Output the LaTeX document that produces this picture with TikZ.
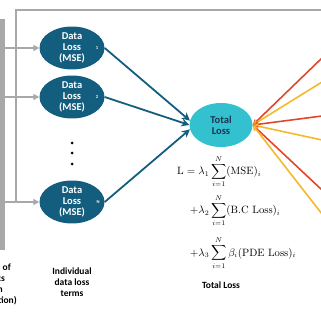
\documentclass[tikz,border=0pt]{standalone}
\usepackage{amsmath,amssymb}
\usepackage{fontspec}
\newfontfamily\calib{Carlito}
\usetikzlibrary{positioning, arrows.meta, shapes.geometric, calc}
\definecolor{deepteal}{HTML}{135E7F}
\definecolor{cyanloss}{HTML}{33C1CF}
\definecolor{navytxt}{HTML}{1B3350}
\definecolor{barGray}{HTML}{A8A8A8}
\definecolor{redline}{HTML}{E0482C}
\definecolor{yellowline}{HTML}{F4B92A}

\begin{document}
\begin{tikzpicture}[x=1pt, y=-1pt,
    every node/.style={font=\calib\bfseries\fontsize{9.5}{11}\selectfont},
    dataloss/.style={ellipse, fill=deepteal, text=white, align=center,
                     minimum width=65pt, minimum height=35pt, inner sep=0pt,
                     font=\calib\bfseries\fontsize{10.5}{11}\selectfont},
    totalloss/.style={ellipse, fill=cyanloss, text=navytxt, align=center,
                      minimum width=63pt, minimum height=44pt, inner sep=0pt,
                      font=\calib\bfseries\fontsize{10.5}{11}\selectfont},
    idx/.style={text=white, inner sep=0pt, font=\calib\bfseries\fontsize{4.5}{5}\selectfont},
    frame/.style={draw=barGray, line width=1.8pt},
    feed/.style={frame, -{Triangle[length=6pt, width=6pt]}},
    toTotal/.style={draw=deepteal, line width=1.8pt, -{Stealth[length=8pt, width=8pt]}},
    warm/.style={line width=1.6pt, -{Stealth[length=6pt, width=6pt]}},
    caption/.style={align=center, inner sep=0pt},
    eqn/.style={inner sep=0pt, font=\normalfont\fontsize{10.6}{12}\selectfont},
]
\useasboundingbox (0,0) rectangle (320,320);

% --- Grey input bar (cut at the left border) ------------------------
\node[fill=barGray, minimum width=25pt, minimum height=231pt, inner sep=0pt]
    (bar) at (-7.5,134.5) {};
\foreach \txt/\xx/\yy [count=\k] in {of/11/270, cs/5/281, n/3/292, tion)/17/303}
    \node[anchor=base east, inner sep=0pt] (cut\k) at (\xx,\yy) {\txt};

% --- Individual data loss terms -------------------------------------
\node[dataloss] (d1) at (72,48)  {Data\\Loss\\(MSE)};
\node[dataloss] (d2) at (72,97)  {Data\\Loss\\(MSE)};
\node[dataloss] (dN) at (72,202) {Data\\Loss\\(MSE)};
\node[idx] (i1) at (97,48)  {1};
\node[idx] (i2) at (97,97)  {2};
\node[idx] (iN) at (98,202) {N};

% vertical dots
\foreach \yy in {143,153,164}
    \fill (72,\yy) circle (1.5pt);

% --- Grey feed lines --------------------------------------------------
\coordinate (railTop) at (16,10);
\coordinate (railEnd) at (322,10);
\draw[frame] (railTop |- dN.west) -- (railTop) -- (railEnd);
\draw[feed] (bar.east |- d1.west) -- (d1.west);
\draw[feed] (bar.east |- d2.west) -- (d2.west);
\draw[feed] (bar.east |- dN.west) -- (dN.west);

% --- Total loss -------------------------------------------------------
\node[totalloss] (total) at (221,125) {Total\\Loss};

\draw[toTotal] (d1.east) -- (total.172);
\draw[toTotal] (d2.east) -- (total.180);
\draw[toTotal] (dN.east) -- (total.188);

% warm lines coming in from the right
\foreach \yy/\col [count=\k] in {58/redline, 82/yellowline, 116/redline,
                                 140/yellowline, 190/redline, 214/yellowline} {
    \coordinate (src\k) at (322,\yy);
    \draw[warm, draw=\col] (src\k) -- (total.east);
}

% --- Loss formula -----------------------------------------------------
\node[eqn, anchor=north west] (eq) at (177,155) {$\begin{aligned}
    \mathrm{L} = \lambda_1 &\sum_{i=1}^{N} (\mathrm{MSE})_i \\[3pt]
    +\lambda_2 &\sum_{i=1}^{N} (\mathrm{B.C\ Loss})_i \\[6pt]
    +\lambda_3 &\sum_{i=1}^{N} \beta_i (\mathrm{PDE\ Loss})_i
\end{aligned}$};

% --- Captions ---------------------------------------------------------
\node[caption] (indiv) at (72,282) {Individual\\data loss\\terms};
\node[caption] (totcap) at (221,285) {Total Loss};

\end{tikzpicture}
\end{document}
